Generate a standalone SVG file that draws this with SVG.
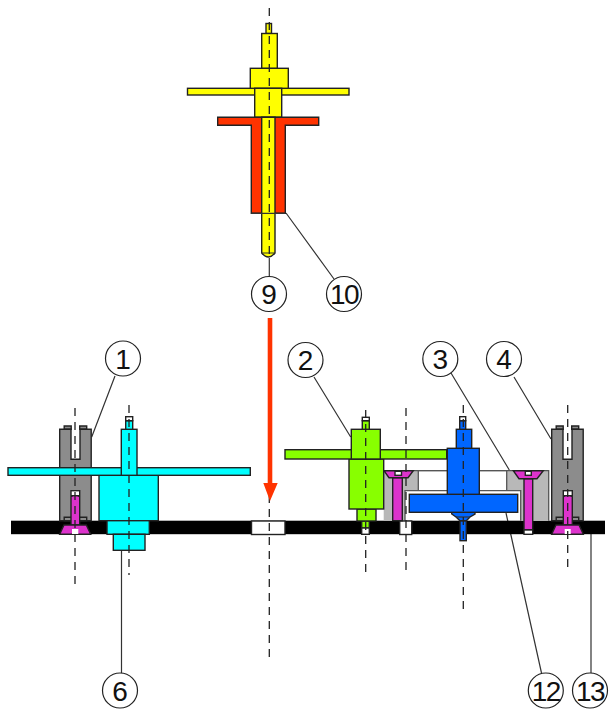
<svg xmlns="http://www.w3.org/2000/svg" width="610" height="709" viewBox="0 0 610 709">
<style>
.s{stroke:#222;stroke-width:1.4}
.y{fill:#ffff00}.r{fill:#ff3300}.c{fill:#00ffff}.g{fill:#88ff00}.b{fill:#0066ff}.m{fill:#dd33cc}.k{fill:#8c8c8c}.l{fill:#b8b8b8}.w{fill:#fff}
.ax{fill:none;stroke:#222;stroke-width:1.3;stroke-dasharray:8 6}
.ln{fill:none;stroke:#333;stroke-width:1.2}
.n{fill:#fff;stroke:#222;stroke-width:1.2}
text{font-family:"Liberation Sans",Arial,sans-serif;font-size:28px;fill:#111;text-anchor:middle}
.t2{letter-spacing:-1.500px}
</style>
<defs>
<g id="grayFork">
<path class="k s" d="M4.500 -3.300h7v3.300h-7zM20 -3.300h7v3.300h-7z"/>
<path class="k s" d="M0 0H11.300V30H20.300V0H31.500V91.500H0z"/>
<path class="k s" d="M4.500 88h22.500v3.500h-22.500z"/>
</g>
</defs>
<g id="connectors">
<path class="ln" d="M269.300 258V277M286 213L334 279"/>
<path class="ln" d="M115 376L91.700 437M314 377L350.700 437M451 373L509.300 470M514 377L551 439"/>
<path class="ln" d="M121.500 550V673M506 513L510.700 534L541.500 673M591 534V673"/>
</g>
<g id="bar"><rect x="11" y="520.700" width="594" height="13.500" fill="#000"/></g>
<g id="hole-center"><rect class="w s" x="251.500" y="521" width="33.500" height="13.500"/></g>
<g id="part-top">
<rect class="y s" x="266" y="23.500" width="5.500" height="10"/>
<rect class="y s" x="261.700" y="33.500" width="15.600" height="35"/>
<rect class="y s" x="187.500" y="88.300" width="161.500" height="6.700"/>
<rect class="y s" x="250.300" y="68.300" width="38" height="20"/>
<rect class="y s" x="254.700" y="88.300" width="27" height="29"/>
<path class="r s" d="M217.700 117.300H318.700V125.300H285.300V213.300H251.300V125.300H217.700z"/>
<path class="y s" d="M261.700 117.300H275V253Q268.300 261 261.700 253z"/>
<path class="ln" d="M251.300 213.300H285.300M262 253H275"/>
</g>
<g id="part-1">
<use href="#grayFork" x="59.700" y="429.300"/>
<path class="m s" d="M71 525V496.700Q75 493 79.700 496.700V525z"/>
<rect class="w s" x="71" y="490.700" width="8.700" height="5"/>
<path class="m s" d="M64 525H86.300L90.700 534.300H59.700z"/>
<rect class="w" x="72" y="529" width="6.300" height="5"/>
</g>
<g id="part-6">
<rect class="c s" x="99" y="475.300" width="59.300" height="45.400"/>
<rect class="c s" x="107" y="520.700" width="42.300" height="13.600"/>
<rect class="c s" x="113.300" y="534.300" width="31.700" height="16"/>
<rect class="c s" x="8" y="467.700" width="242.300" height="7.600"/>
<rect class="c s" x="121.300" y="429.300" width="15.700" height="46"/>
<rect class="c s" x="125.700" y="420.700" width="7" height="8.600"/>
<rect class="w s" x="125.700" y="416.700" width="7" height="4"/>
</g>
<g id="block">
<path class="l" d="M383.700 470.700H548.700V520.700H520.700V490.700H405V520.700H383.700z"/>
<rect class="w" x="418.300" y="471.500" width="88.400" height="19"/>
<path fill="none" stroke="#555" stroke-width="1.300" d="M383.700 470.700H548.700V520.700M520.700 520.700V490.700H405V520.700M418.300 470.700V490.700M506.700 470.700V490.700"/>
<rect class="w s" x="399.700" y="521" width="12" height="13.500"/>
</g>
<g id="screw-a">
<rect class="m s" x="392.700" y="477.700" width="9.600" height="43"/>
<path class="m s" d="M384 470.700H413.300L408 477.700H389z"/>
<rect class="w s" x="395" y="471.300" width="6.500" height="4"/>
</g>
<g id="screw-b">
<rect class="m s" x="524" y="478.700" width="8.700" height="51"/>
<path class="m s" d="M513.300 470.700H543.300L537 478.700H519z"/>
<rect class="w s" x="525.300" y="471.300" width="6" height="4"/>
<rect class="w s" x="524" y="530" width="8.700" height="4.300"/>
</g>
<g id="part-2">
<rect class="g s" x="361.700" y="521" width="7.600" height="7"/>
<rect class="w s" x="361.700" y="528" width="7.600" height="6.300"/>
<rect class="g s" x="357" y="509" width="19" height="12"/>
<rect class="g s" x="349" y="459" width="34.700" height="50"/>
<rect class="g s" x="285" y="449.700" width="161.700" height="9.300"/>
<rect class="g s" x="351.300" y="429.300" width="29" height="29.700"/>
<rect class="g s" x="362.300" y="420.700" width="7" height="8.600"/>
<rect class="w s" x="362.300" y="417.300" width="7" height="3.400"/>
</g>
<g id="part-3">
<rect class="b s" x="460" y="520.700" width="6.300" height="20"/>
<path class="b s" d="M451.700 512.300H475V514L470 517L466.300 520.700H460L456 517L451.700 514z"/>
<path class="ln" d="M456 517H470"/>
<rect class="b s" x="409.300" y="494.300" width="108.400" height="18"/>
<rect class="b s" x="447.300" y="448.300" width="32" height="46"/>
<rect class="b s" x="456.300" y="429.300" width="15.400" height="19"/>
<rect class="b s" x="459.700" y="420.700" width="6" height="8.600"/>
<rect class="w s" x="459.700" y="416.700" width="6" height="4"/>
</g>
<g id="part-4">
<use href="#grayFork" x="551.700" y="429.300"/>
<path class="m s" d="M563.300 525V496.700Q567.500 493 572.300 496.700V525z"/>
<rect class="w s" x="563.300" y="490.700" width="9" height="5"/>
<path class="m s" d="M556 525H579L583.300 534.300H551.700z"/>
<rect class="w" x="564.700" y="529" width="6" height="5"/>
</g>
<g id="axes">
<path class="ax" d="M269.300 8V258"/>
<path class="ax" d="M75 408V585M129 405V575M269.300 495V662M365.700 410V577M406 408V576M463.300 405V612M567.700 405V572"/>
</g>
<g id="arrow">
<path fill="#ff3300" d="M267.700 318H272.300V483H277.700L270 501L263.300 483H267.700z"/>
</g>
<g id="label-9"><circle class="n" cx="269" cy="294" r="17.500"/><text x="269" y="304">9</text></g>
<g id="label-10"><circle class="n" cx="344" cy="294" r="17.500"/><text class="t2" x="344" y="304">10</text></g>
<g id="label-1"><circle class="n" cx="123" cy="358.500" r="17.500"/><text x="123" y="368.500">1</text></g>
<g id="label-2"><circle class="n" cx="305.500" cy="360" r="17.500"/><text x="305.500" y="369.500">2</text></g>
<g id="label-3"><circle class="n" cx="440.300" cy="359" r="17.500"/><text x="440.300" y="369">3</text></g>
<g id="label-4"><circle class="n" cx="504" cy="359" r="17.500"/><text x="504" y="369">4</text></g>
<g id="label-6"><circle class="n" cx="120" cy="690.500" r="17.500"/><text x="120" y="700.500">6</text></g>
<g id="label-12"><circle class="n" cx="545.800" cy="690.500" r="17.500"/><text class="t2" x="545.800" y="700.500">12</text></g>
<g id="label-13"><circle class="n" cx="590" cy="690.500" r="17.500"/><text class="t2" x="590" y="700.500">13</text></g>
</svg>
